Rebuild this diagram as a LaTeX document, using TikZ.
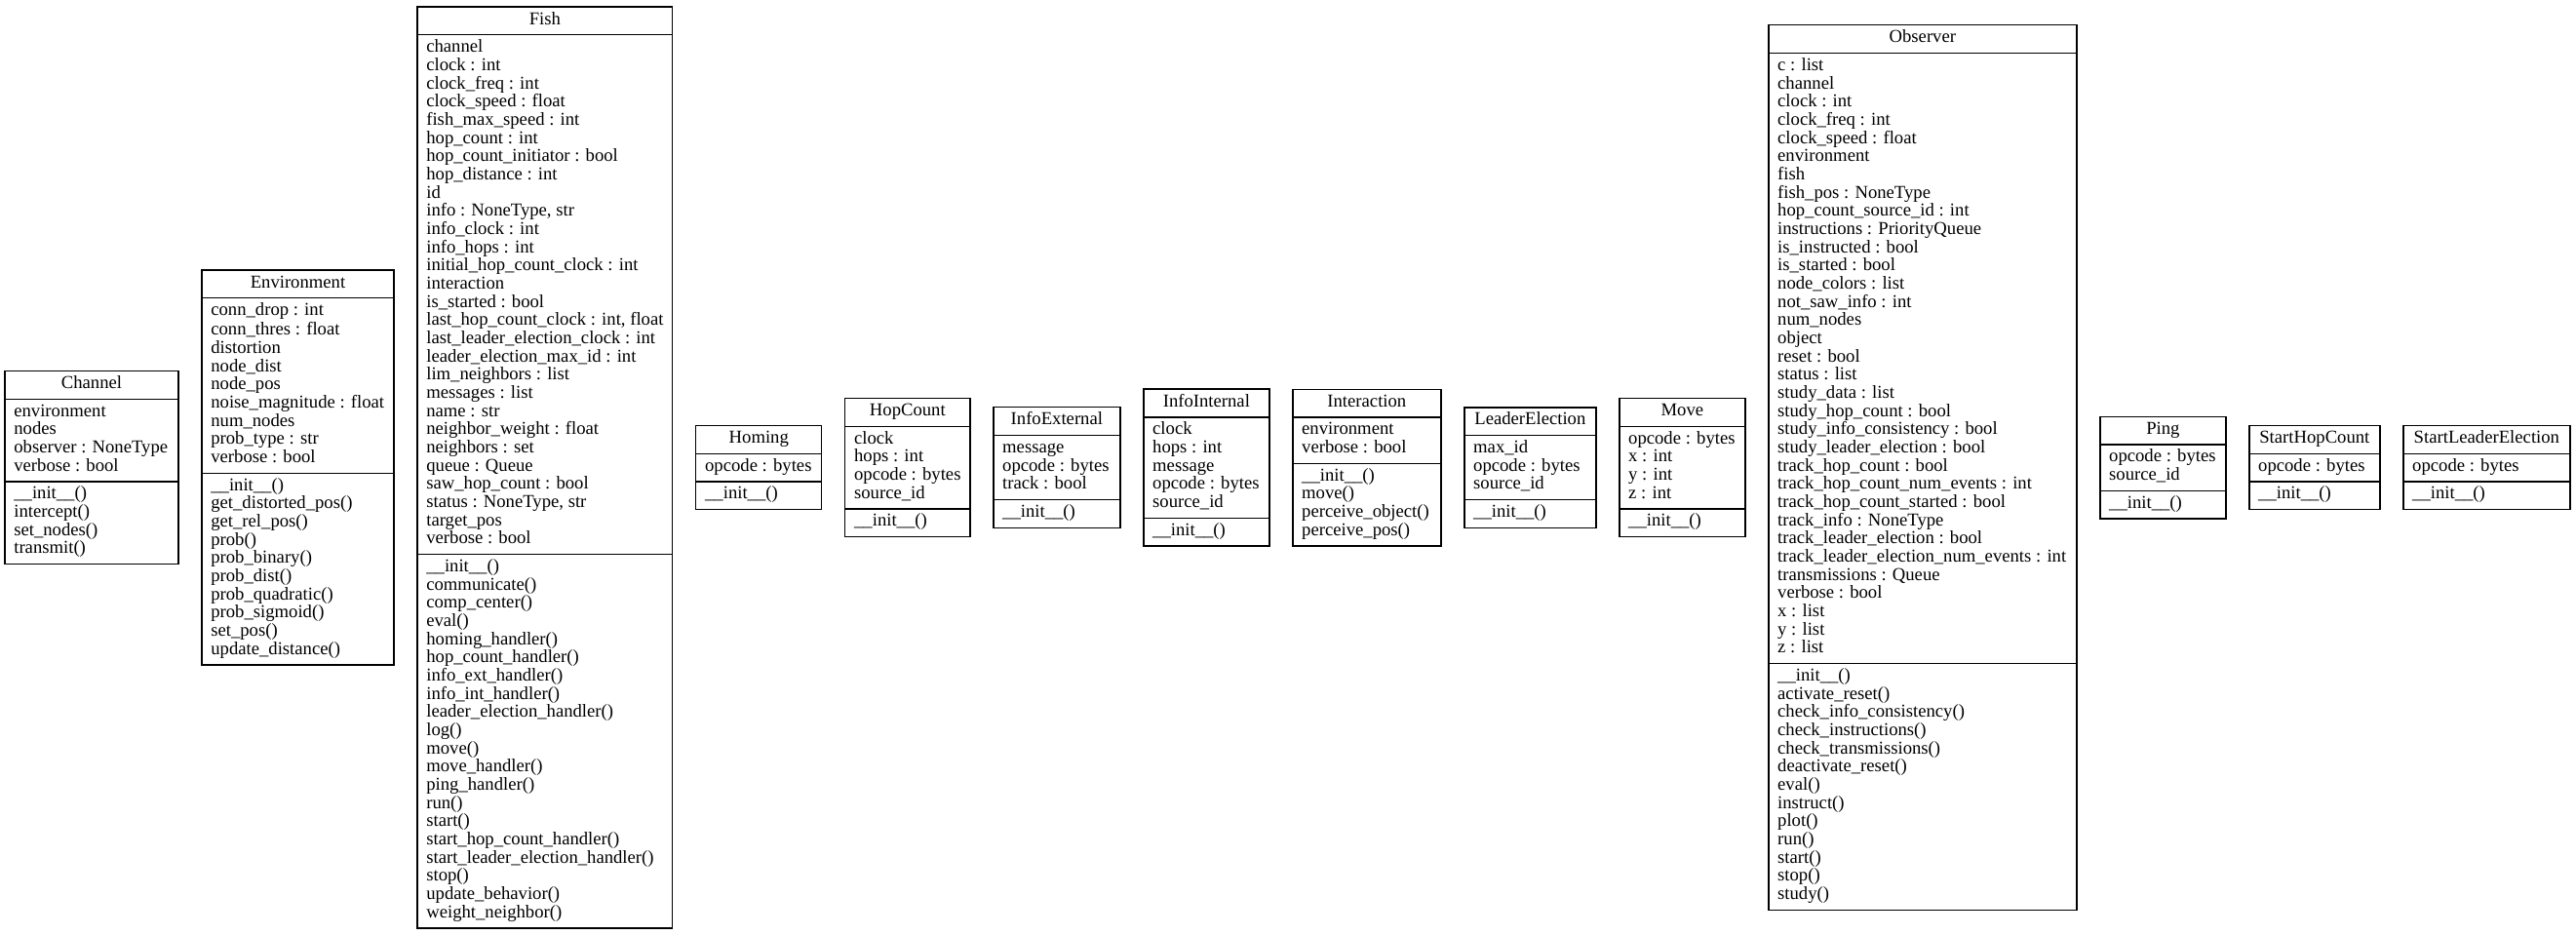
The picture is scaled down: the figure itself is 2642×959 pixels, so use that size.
\documentclass[tikz,border=0pt]{standalone}
\usepackage{fontspec}
\setmainfont{Liberation Serif}
\usepackage{tikz}
\usetikzlibrary{positioning,shapes.multipart}

\newcommand{\umlfont}{\fontsize{14}{14}\selectfont}
\newcommand{\umlparts}[3]{\strut#1\nodepart{two}\strut#2\strut\nodepart{three}\strut#3\strut}

\begin{document}
\begin{tikzpicture}[
  x=0.75pt, y=-0.75pt,
  node distance=18pt,
  every node/.style={font=\umlfont},
  umlclass/.style={draw, line width=1pt, rectangle split, rectangle split parts=3,
    rectangle split part align={center,left,left}, align=left,
    inner xsep=7pt, inner ysep=3.25pt, outer sep=0pt, anchor=west, minimum width=#1}
]
\useasboundingbox (0,0) rectangle (2642,959);

\node[umlclass=133.5pt] (channel) at (5,479.5)
  {\umlparts{Channel}
    {environment\\nodes\\observer : NoneType\\verbose : bool}
    {\_\_init\_\_()\\intercept()\\set\_nodes()\\transmit()}};
\node[umlclass=147.75pt, right=of channel] (environment)
  {\umlparts{Environment}
    {conn\_drop : int\\conn\_thres : float\\distortion\\node\_dist\\node\_pos\\noise\_magnitude : float\\num\_nodes\\prob\_type : str\\verbose : bool}
    {\_\_init\_\_()\\get\_distorted\_pos()\\get\_rel\_pos()\\prob()\\prob\_binary()\\prob\_dist()\\prob\_quadratic()\\prob\_sigmoid()\\set\_pos()\\update\_distance()}};
\node[umlclass=195.75pt, right=of environment] (fish)
  {\umlparts{Fish}
    {channel\\clock : int\\clock\_freq : int\\clock\_speed : float\\fish\_max\_speed : int\\hop\_count : int\\hop\_count\_initiator : bool\\hop\_distance : int\\id\\info : NoneType, str\\info\_clock : int\\info\_hops : int\\initial\_hop\_count\_clock : int\\interaction\\is\_started : bool\\last\_hop\_count\_clock : int, float\\last\_leader\_election\_clock : int\\leader\_election\_max\_id : int\\lim\_neighbors : list\\messages : list\\name : str\\neighbor\_weight : float\\neighbors : set\\queue : Queue\\saw\_hop\_count : bool\\status : NoneType, str\\target\_pos\\verbose : bool}
    {\_\_init\_\_()\\communicate()\\comp\_center()\\eval()\\homing\_handler()\\hop\_count\_handler()\\info\_ext\_handler()\\info\_int\_handler()\\leader\_election\_handler()\\log()\\move()\\move\_handler()\\ping\_handler()\\run()\\start()\\start\_hop\_count\_handler()\\start\_leader\_election\_handler()\\stop()\\update\_behavior()\\weight\_neighbor()}};
\node[umlclass=96.75pt, right=of fish] (homing)
  {\umlparts{Homing}{opcode : bytes}{\_\_init\_\_()}};
\node[umlclass=96pt, right=of homing] (hopcount)
  {\umlparts{HopCount}{clock\\hops : int\\opcode : bytes\\source\_id}{\_\_init\_\_()}};
\node[umlclass=97.5pt, right=of hopcount] (infoexternal)
  {\umlparts{InfoExternal}{message\\opcode : bytes\\track : bool}{\_\_init\_\_()}};
\node[umlclass=96.75pt, right=of infoexternal] (infointernal)
  {\umlparts{InfoInternal}{clock\\hops : int\\message\\opcode : bytes\\source\_id}{\_\_init\_\_()}};
\node[umlclass=114pt, right=of infointernal] (interaction)
  {\umlparts{Interaction}{environment\\verbose : bool}
    {\_\_init\_\_()\\move()\\perceive\_object()\\perceive\_pos()}};
\node[umlclass=101.25pt, right=of interaction] (leaderelection)
  {\umlparts{LeaderElection}{max\_id\\opcode : bytes\\source\_id}{\_\_init\_\_()}};
\node[umlclass=96.75pt, right=of leaderelection] (move)
  {\umlparts{Move}{opcode : bytes\\x : int\\y : int\\z : int}{\_\_init\_\_()}};
\node[umlclass=237pt, right=of move] (observer)
  {\umlparts{Observer}
    {c : list\\channel\\clock : int\\clock\_freq : int\\clock\_speed : float\\environment\\fish\\fish\_pos : NoneType\\hop\_count\_source\_id : int\\instructions : PriorityQueue\\is\_instructed : bool\\is\_started : bool\\node\_colors : list\\not\_saw\_info : int\\num\_nodes\\object\\reset : bool\\status : list\\study\_data : list\\study\_hop\_count : bool\\study\_info\_consistency : bool\\study\_leader\_election : bool\\track\_hop\_count : bool\\track\_hop\_count\_num\_events : int\\track\_hop\_count\_started : bool\\track\_info : NoneType\\track\_leader\_election : bool\\track\_leader\_election\_num\_events : int\\transmissions : Queue\\verbose : bool\\x : list\\y : list\\z : list}
    {\_\_init\_\_()\\activate\_reset()\\check\_info\_consistency()\\check\_instructions()\\check\_transmissions()\\deactivate\_reset()\\eval()\\instruct()\\plot()\\run()\\start()\\stop()\\study()}};
\node[umlclass=96.75pt, right=of observer] (ping)
  {\umlparts{Ping}{opcode : bytes\\source\_id}{\_\_init\_\_()}};
\node[umlclass=100.5pt, right=of ping] (starthopcount)
  {\umlparts{StartHopCount}{opcode : bytes}{\_\_init\_\_()}};
\node[umlclass=128.25pt, right=of starthopcount] (startleaderelection)
  {\umlparts{StartLeaderElection}{opcode : bytes}{\_\_init\_\_()}};
\end{tikzpicture}
\end{document}
